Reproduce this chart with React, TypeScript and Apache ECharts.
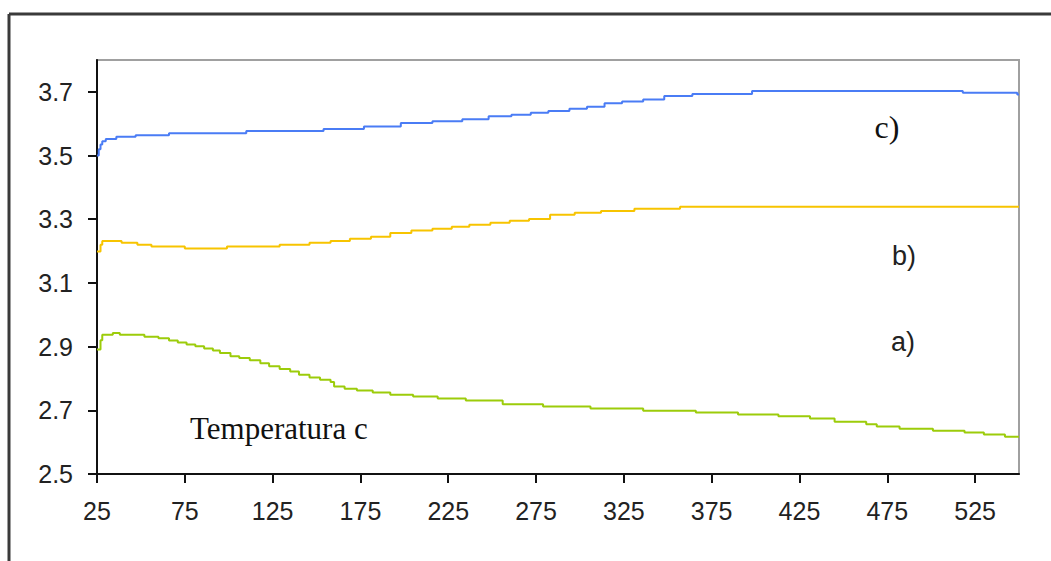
import React, { useEffect, useRef } from "react";
import * as echarts from "echarts";

// Temperature (x) vs value (y), step-wise traces
const seriesC: [number, number][] = [
  [25, 3.5], [26, 3.52], [27, 3.535], [28, 3.545], [30, 3.552], [36, 3.559], [47, 3.564],
  [66, 3.57], [110, 3.577], [154, 3.583], [177, 3.591], [198, 3.602], [216, 3.608],
  [233, 3.614], [248, 3.623], [261, 3.628], [272, 3.634], [282, 3.64], [294, 3.647],
  [304, 3.653], [314, 3.664], [324, 3.67], [336, 3.676], [348, 3.687], [364, 3.693],
  [398, 3.703], [518, 3.697], [549, 3.692], [550, 3.69],
];

const seriesB: [number, number][] = [
  [25, 3.199], [27, 3.22], [28, 3.232], [39, 3.226], [48, 3.22], [56, 3.214], [75, 3.208],
  [99, 3.214], [129, 3.22], [146, 3.226], [158, 3.232], [169, 3.239], [181, 3.245],
  [192, 3.257], [204, 3.265], [216, 3.27], [227, 3.276], [237, 3.283], [249, 3.289],
  [260, 3.295], [271, 3.301], [283, 3.314], [297, 3.32], [312, 3.326], [331, 3.333],
  [357, 3.339], [550, 3.339],
];

const seriesA: [number, number][] = [
  [25, 2.891], [27, 2.92], [28, 2.937], [34, 2.943], [38, 2.937], [52, 2.931], [60, 2.926],
  [66, 2.919], [71, 2.913], [76, 2.907], [81, 2.901], [86, 2.894], [91, 2.888], [95, 2.88],
  [101, 2.87], [106, 2.864], [112, 2.857], [118, 2.848], [123, 2.838], [129, 2.83],
  [135, 2.822], [140, 2.812], [146, 2.803], [152, 2.796], [158, 2.789], [160, 2.775],
  [166, 2.768], [173, 2.762], [182, 2.756], [192, 2.749], [205, 2.743], [219, 2.737],
  [235, 2.731], [256, 2.719], [279, 2.712], [306, 2.706], [336, 2.699], [366, 2.693],
  [390, 2.687], [413, 2.681], [431, 2.674], [445, 2.664], [463, 2.656], [469, 2.649],
  [482, 2.642], [501, 2.636], [519, 2.63], [530, 2.624], [542, 2.617], [550, 2.617],
];

const xTicks = [25, 75, 125, 175, 225, 275, 325, 375, 425, 475, 525];
const yTicks = [2.5, 2.7, 2.9, 3.1, 3.3, 3.5, 3.7];

export default function App() {
  const ref = useRef<HTMLDivElement>(null);
  useEffect(() => {
    if (!ref.current) return;
    const chart = echarts.init(ref.current, null, { renderer: "svg" });
    const lineStyle = (c: string) => ({ color: c, width: 2 });
    chart.setOption({
      animation: false,
      backgroundColor: "#ffffff",
      grid: {
        left: 97,
        top: 60,
        right: 32,
        bottom: 87,
        show: true,
        borderColor: "#a0a0a0",
        borderWidth: 2,
      },
      xAxis: {
        type: "value",
        min: 25,
        max: 550,
        axisLine: { show: true, lineStyle: { color: "#111", width: 2 } },
        axisTick: { show: true, length: 9, lineStyle: { color: "#111", width: 2 }, customValues: xTicks },
        axisLabel: {
          customValues: xTicks,
          margin: 24,
          color: "#222",
          fontFamily: "Liberation Sans, Arial, sans-serif",
          fontSize: 25,
        },
        splitLine: { show: false },
      },
      yAxis: {
        type: "value",
        min: 2.5,
        max: 3.8,
        axisLine: { show: true, lineStyle: { color: "#111", width: 2 } },
        axisTick: { show: true, length: 9, lineStyle: { color: "#111", width: 2 }, customValues: yTicks },
        axisLabel: {
          customValues: yTicks,
          margin: 24,
          color: "#222",
          fontFamily: "Liberation Sans, Arial, sans-serif",
          fontSize: 25,
          formatter: (v: number) => v.toFixed(1),
        },
        splitLine: { show: false },
      },
      series: [
        { type: "line", name: "c)", data: seriesC, step: "end", showSymbol: false, lineStyle: lineStyle("#4a7cf5"), itemStyle: { color: "#4a7cf5" } },
        { type: "line", name: "b)", data: seriesB, step: "end", showSymbol: false, lineStyle: lineStyle("#f7c400"), itemStyle: { color: "#f7c400" } },
        { type: "line", name: "a)", data: seriesA, step: "end", showSymbol: false, lineStyle: lineStyle("#9ccc0a"), itemStyle: { color: "#9ccc0a" } },
      ],
      graphic: [
        { type: "line", shape: { x1: 9, y1: 14, x2: 1051, y2: 14 }, style: { stroke: "#3a3a3a", lineWidth: 3 } },
        { type: "line", shape: { x1: 9, y1: 14, x2: 9, y2: 561 }, style: { stroke: "#3a3a3a", lineWidth: 3 } },
        {
          type: "text", x: 887, y: 127,
          style: { text: "c)", font: "32px 'Liberation Serif', 'Times New Roman', serif", fill: "#111", textAlign: "center", textVerticalAlign: "middle" },
        },
        {
          type: "text", x: 904, y: 256,
          style: { text: "b)", font: "27px 'Liberation Sans', Arial, sans-serif", fill: "#222", textAlign: "center", textVerticalAlign: "middle" },
        },
        {
          type: "text", x: 903, y: 342,
          style: { text: "a)", font: "27px 'Liberation Sans', Arial, sans-serif", fill: "#222", textAlign: "center", textVerticalAlign: "middle" },
        },
        {
          type: "text", x: 190, y: 428,
          style: { text: "Temperatura c", font: "31px 'Liberation Serif', 'Times New Roman', serif", fill: "#111", textAlign: "left", textVerticalAlign: "middle" },
        },
      ],
    });
    return () => chart.dispose();
  }, []);
  return (
    <div
      ref={ref}
      style={{ position: "fixed", left: 0, top: 0, width: 1051, height: 561 }}
    />
  );
}
